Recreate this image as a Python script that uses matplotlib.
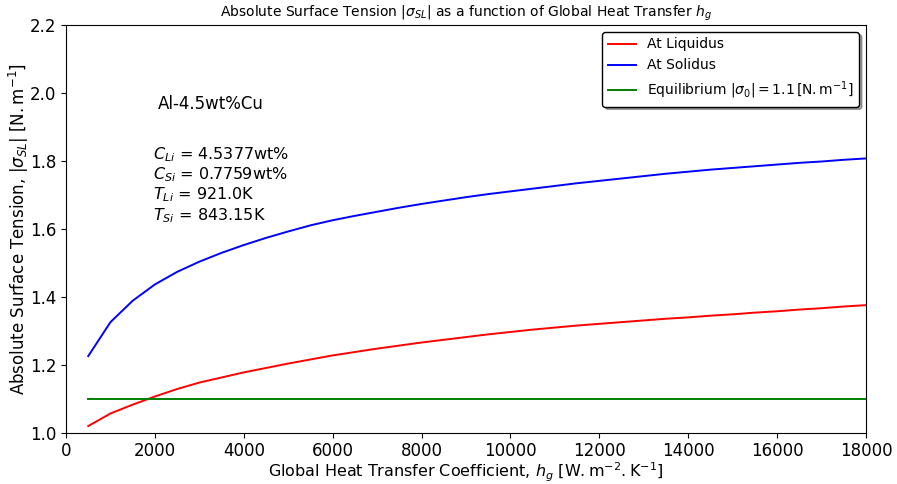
import matplotlib
matplotlib.use("Agg")
import matplotlib.pyplot as plt
import numpy as np

# global heat transfer coefficient h_g [W.m^-2.K^-1]
h_g = [500, 1000, 1500, 2000, 2500, 3000, 3500, 4000, 4500, 5000, 5500, 6000,
       6500, 7000, 7500, 8000, 8500, 9000, 9500, 10000, 10500, 11000, 11500, 12000,
       12500, 13000, 13500, 14000, 14500, 15000, 15500, 16000, 16500, 17000, 17500, 18000]

# |sigma_SL| at liquidus
sigma_liq = [1.019, 1.056, 1.082, 1.106, 1.128, 1.147, 1.162, 1.177, 1.190, 1.203, 1.215, 1.227,
             1.237, 1.247, 1.256, 1.265, 1.273, 1.281, 1.289, 1.296, 1.303, 1.309, 1.315, 1.320,
             1.325, 1.330, 1.335, 1.339, 1.344, 1.348, 1.353, 1.357, 1.362, 1.366, 1.371, 1.375]

# |sigma_SL| at solidus
sigma_sol = [1.225, 1.325, 1.388, 1.436, 1.473, 1.503, 1.529, 1.552, 1.573, 1.592, 1.610, 1.625,
             1.638, 1.650, 1.662, 1.673, 1.683, 1.693, 1.702, 1.710, 1.718, 1.726, 1.734, 1.741,
             1.748, 1.755, 1.762, 1.768, 1.774, 1.779, 1.784, 1.789, 1.794, 1.798, 1.803, 1.807]

sigma_0 = 1.1

fig = plt.figure(figsize=(8.97, 4.84), dpi=100)
ax = fig.add_axes([0.0736, 0.1064, 0.8918, 0.8420])

ax.plot(h_g, sigma_liq, color='r', lw=1.4, label='At Liquidus')
ax.plot(h_g, sigma_sol, color='b', lw=1.4, label='At Solidus')
ax.plot(h_g, np.full(len(h_g), sigma_0), color='g', lw=1.4,
        label=r'Equilibrium $|\sigma_0| = 1.1\,[\mathrm{N.m^{-1}}]$')

ax.set_xlim(0, 18000)
ax.set_ylim(1.0, 2.2)
ax.set_xticks(np.arange(0, 18001, 2000))
ax.set_yticks(np.arange(1.0, 2.21, 0.2))
ax.tick_params(labelsize=12)

ax.set_title(r'Absolute Surface Tension $|\sigma_{SL}|$ as a function of Global Heat Transfer $h_g$',
             fontsize=10)
ax.set_xlabel(r'Global Heat Transfer Coefficient, $h_g$ $[\mathrm{W.m^{-2}.K^{-1}}]$',
              fontsize=11.5, labelpad=0)
ax.set_ylabel(r'Absolute Surface Tension, $|\sigma_{SL}|$ $[\mathrm{N.m^{-1}}]$',
              fontsize=12, labelpad=-1)

ax.text(2070, 1.966, 'Al-4.5wt%Cu', fontsize=12, va='center', ha='left')
ax.text(1950, 1.845,
        '$C_{Li}$ = 4.5377wt%\n$C_{Si}$ = 0.7759wt%\n$T_{Li}$ = 921.0K\n$T_{Si}$ = 843.15K',
        fontsize=11.5, va='top', ha='left', linespacing=1.1)

leg = ax.legend(loc='upper right', fontsize=10, shadow=True, framealpha=1,
                edgecolor='black', fancybox=True)

fig.savefig('out.png', dpi=100)
